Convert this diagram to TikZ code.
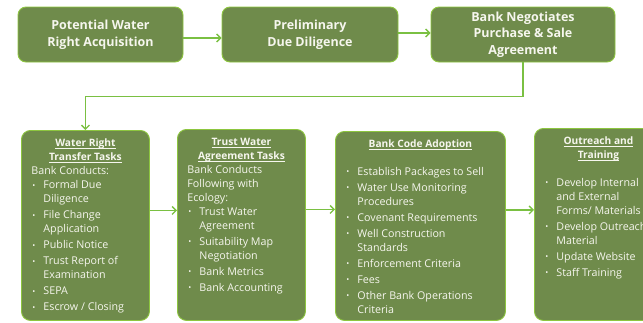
\documentclass[tikz,border=0pt]{standalone}
\usepackage{fontspec}
\setmainfont{Open Sans}
\usetikzlibrary{arrows.meta,positioning}
\definecolor{boxgreen}{RGB}{111,139,75}
\definecolor{edgegreen}{RGB}{141,198,63}
\definecolor{arrowgreen}{RGB}{122,192,66}
\definecolor{boxtext}{RGB}{246,246,238}
% underlined title line and bullet item
\newcommand{\tline}[1]{\leavevmode\setbox0\hbox{#1}\rlap{\rule[-2.2pt]{\wd0}{0.6pt}}\box0}
\newcommand{\tasktitle}[1]{{\centering\fontsize{10.2}{14}\selectfont\bfseries #1\par}}
\newcommand{\bul}[1][2pt]{\par\vspace{#1}\hangindent=12pt\hangafter=1\noindent
    \makebox[12pt][l]{\hspace{1pt}\raisebox{0.6pt}{\footnotesize\textbullet}}\ignorespaces}

\begin{document}
\begin{tikzpicture}[
    x=1pt, y=-1pt,
    step box/.style={draw=edgegreen, line width=0.9pt, fill=boxgreen,
        rounded corners=8pt, minimum height=55pt, inner sep=0pt,
        text=boxtext, align=center,
        font=\fontsize{12.5}{16.5}\selectfont\bfseries},
    task box/.style={draw=edgegreen, line width=0.9pt, fill=boxgreen,
        rounded corners=9pt, inner xsep=10pt, inner ysep=8.5pt,
        anchor=north west, text=boxtext,
        font=\fontsize{10.7}{14}\selectfont},
    flow line/.style={draw=arrowgreen, line width=1.3pt,
        -{Straight Barb[length=4pt,width=8pt]}}
    ]
    \useasboundingbox (0,0) rectangle (643,322);
    % First row
    \node[step box, minimum width=165pt] (acquire) at (100.5,34.5)
        {Potential Water\\Right Acquisition};
    \node[step box, minimum width=176pt] (diligence) at (310,34.5)
        {Preliminary\\Due Diligence};
    \node[step box, minimum width=184pt] (negotiate) at (523,34.5)
        {Bank Negotiates\\Purchase \& Sale\\Agreement};
    % Second row
    \node[task box] (transfer) at (21,130) {\parbox[t][173pt][t]{108pt}{%
        \tasktitle{\tline{Water Right}\\\tline{Transfer Tasks}}
        \raggedright Bank Conducts:
        \bul[0pt] Formal Due\newline Diligence
        \bul File Change\newline Application
        \bul Public Notice
        \bul Trust Report of\newline Examination
        \bul SEPA
        \bul Escrow / Closing\par}};
    \node[task box] (trust) at (177,129) {\parbox[t][174pt][t]{108pt}{%
        \tasktitle{\tline{Trust Water}\\\tline{Agreement Tasks}}
        \raggedright Bank Conducts\newline Following with\newline Ecology:
        \bul[0pt] Trust Water\newline Agreement
        \bul Suitability Map\newline Negotiation
        \bul Bank Metrics
        \bul Bank Accounting\par}};
    \node[task box] (code) at (335,131) {\parbox[t][172pt][t]{150pt}{%
        \tasktitle{\tline{Bank Code Adoption}}
        \raggedright
        \bul[13.5pt] Establish Packages to Sell
        \bul Water Use Monitoring\newline Procedures
        \bul Covenant Requirements
        \bul Well Construction\newline Standards
        \bul Enforcement Criteria
        \bul Fees
        \bul Other Bank Operations\newline Criteria\par}};
    \node[task box] (outreach) at (534,128) {\parbox[t][175pt][t]{108pt}{%
        \tasktitle{\tline{Outreach and}\\\tline{Training}}
        \raggedright
        \bul[13.5pt] Develop Internal\newline and External\newline Forms/ Materials
        \bul Develop Outreach\newline Material
        \bul Update Website
        \bul Staff Training\par}};
    % Connectors
    \draw[flow line] ([yshift=-3.5pt]acquire.east) -- ([yshift=-3.5pt]acquire.east -| diligence.west);
    \draw[flow line] ([yshift=1.5pt]diligence.east) -- ([yshift=1.5pt]diligence.east -| negotiate.west);
    \draw[flow line] (negotiate.south) -- ++(0,34) -| (transfer.north);
    \draw[flow line] ([yshift=15pt]transfer.east) -- ([yshift=15pt]transfer.east -| trust.west);
    \draw[flow line] ([yshift=15.5pt]trust.east) -- ([yshift=15.5pt]trust.east -| code.west);
    \draw[flow line] ([yshift=16pt]code.east) -- ([yshift=16pt]code.east -| outreach.west);
\end{tikzpicture}
\end{document}
